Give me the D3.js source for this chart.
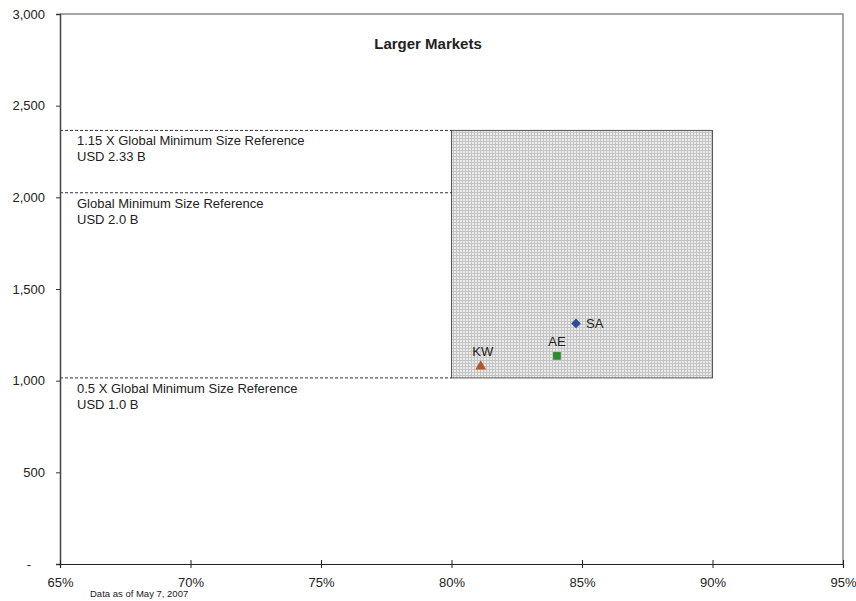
<!DOCTYPE html>
<html lang="en">
<head>
    <meta charset="UTF-8">
    <title>Larger Markets</title>
    <script src="https://d3js.org/d3.v7.min.js"></script>
    <style>
        body { margin: 0; font-family: Arial, "Liberation Sans", sans-serif; background: #fff; }
        text { fill: #222; }
    </style>
</head>
<body>
    <script>
        // data
        const countries = ["SA", "AE", "KW"];
        const shares = [0.8477, 0.8404, 0.8112];
        const sizes = [1312, 1135, 1078];
        const markerShapes = ["diamond", "square", "triangle"];
        const markerColors = ["#2c4c98", "#2f8a2f", "#b2582c"];

        const refValues = [2365, 2025, 1015];
        const refLines1 = ["1.15 X Global Minimum Size Reference", "Global Minimum Size Reference", "0.5 X Global Minimum Size Reference"];
        const refLines2 = ["USD 2.33 B", "USD 2.0 B", "USD 1.0 B"];

        const zoneX = [0.80, 0.90];
        const zoneY = [1015, 2365];

        const xTicks = [0.65, 0.70, 0.75, 0.80, 0.85, 0.90, 0.95];
        const yTicks = [0, 500, 1000, 1500, 2000, 2500, 3000];

        const width = 856, height = 601;
        const margin = { top: 14, right: 13, bottom: 37, left: 60 };

        const svg = d3.select("body").append("svg")
            .attr("width", width)
            .attr("height", height);

        const x = d3.scaleLinear().domain([0.65, 0.95]).range([margin.left, width - margin.right]);
        const y = d3.scaleLinear().domain([0, 3000]).range([height - margin.bottom, margin.top]);

        // fine grid pattern for the shaded zone
        const defs = svg.append("defs");
        const pat = defs.append("pattern")
            .attr("id", "grid")
            .attr("width", 3).attr("height", 3)
            .attr("patternUnits", "userSpaceOnUse");
        pat.append("rect").attr("width", 3).attr("height", 3).attr("fill", "#ebebeb");
        pat.append("rect").attr("width", 3).attr("height", 1).attr("fill", "#c4c4c4");
        pat.append("rect").attr("width", 1).attr("height", 3).attr("fill", "#c4c4c4");

        // plot frame (top + right)
        svg.append("path")
            .attr("d", `M${x(0.65)},${y(3000)}H${x(0.95)}V${y(0)}`)
            .attr("fill", "none")
            .attr("stroke", "#888")
            .attr("stroke-width", 1.5);

        // shaded zone
        svg.append("rect")
            .attr("x", x(zoneX[0]))
            .attr("y", y(zoneY[1]))
            .attr("width", x(zoneX[1]) - x(zoneX[0]))
            .attr("height", y(zoneY[0]) - y(zoneY[1]))
            .attr("fill", "url(#grid)")
            .attr("stroke", "#555")
            .attr("stroke-width", 1);

        // reference lines
        svg.selectAll(".ref")
            .data(refValues)
            .enter()
            .append("line")
            .attr("x1", x(0.65))
            .attr("x2", x(zoneX[0]))
            .attr("y1", d => y(d))
            .attr("y2", d => y(d))
            .attr("stroke", "#333")
            .attr("stroke-dasharray", "3,2");

        const refText = svg.selectAll(".reftext")
            .data(refValues)
            .enter()
            .append("text")
            .attr("x", 77)
            .attr("y", d => y(d) + 15)
            .style("font-size", "13px");
        refText.append("tspan").text((d, i) => refLines1[i]);
        refText.append("tspan").attr("x", 77).attr("dy", 16).text((d, i) => refLines2[i]);

        // axes
        const yAxis = d3.axisLeft(y)
            .tickValues(yTicks)
            .tickSize(4)
            .tickPadding(11)
            .tickFormat(d => d === 0 ? "-" : d3.format(",")(d));
        const gy = svg.append("g")
            .attr("transform", `translate(${margin.left},0)`)
            .call(yAxis);
        gy.select(".domain").attr("stroke", "#444").attr("stroke-width", 1.5);
        gy.selectAll(".tick line").attr("stroke", "#333");
        gy.selectAll("text").style("font-size", "13px").attr("fill", "#222");
        gy.selectAll(".tick text").filter(d => d === 0).attr("dx", -14);

        const xAxis = d3.axisBottom(x)
            .tickValues(xTicks)
            .tickSize(4)
            .tickPadding(10)
            .tickFormat(d3.format(".0%"));
        const gx = svg.append("g")
            .attr("transform", `translate(0,${y(0)})`)
            .call(xAxis);
        gx.select(".domain").attr("stroke", "#222").attr("stroke-width", 1.2);
        gx.selectAll(".tick line").attr("y1", -4).attr("stroke", "#222");
        gx.selectAll("text").style("font-size", "13px").attr("fill", "#222");

        // markers
        const symbols = { diamond: d3.symbolDiamond2, square: d3.symbolSquare, triangle: d3.symbolTriangle };
        const symSize = { diamond: 60, square: 60, triangle: 50 };
        svg.selectAll(".pt")
            .data(countries)
            .enter()
            .append("path")
            .attr("transform", (d, i) => `translate(${x(shares[i])},${y(sizes[i])})`)
            .attr("d", (d, i) => d3.symbol().type(symbols[markerShapes[i]]).size(symSize[markerShapes[i]])())
            .attr("fill", (d, i) => markerColors[i]);

        // point labels
        const labelOffsets = { diamond: [10, 5, "start"], square: [0, -10, "middle"], triangle: [2, -10, "middle"] };
        svg.selectAll(".lbl")
            .data(countries)
            .enter()
            .append("text")
            .attr("x", (d, i) => x(shares[i]) + labelOffsets[markerShapes[i]][0])
            .attr("y", (d, i) => y(sizes[i]) + labelOffsets[markerShapes[i]][1])
            .attr("text-anchor", (d, i) => labelOffsets[markerShapes[i]][2])
            .style("font-size", "13px")
            .attr("fill", "#333")
            .text(d => d);

        // title
        svg.append("text")
            .attr("x", 428)
            .attr("y", 49)
            .attr("text-anchor", "middle")
            .style("font-size", "15px")
            .style("font-weight", "bold")
            .text("Larger Markets");

        // footnote
        svg.append("text")
            .attr("x", 90)
            .attr("y", 597)
            .style("font-size", "9.5px")
            .text("Data as of May 7, 2007");
    </script>
</body>
</html>
